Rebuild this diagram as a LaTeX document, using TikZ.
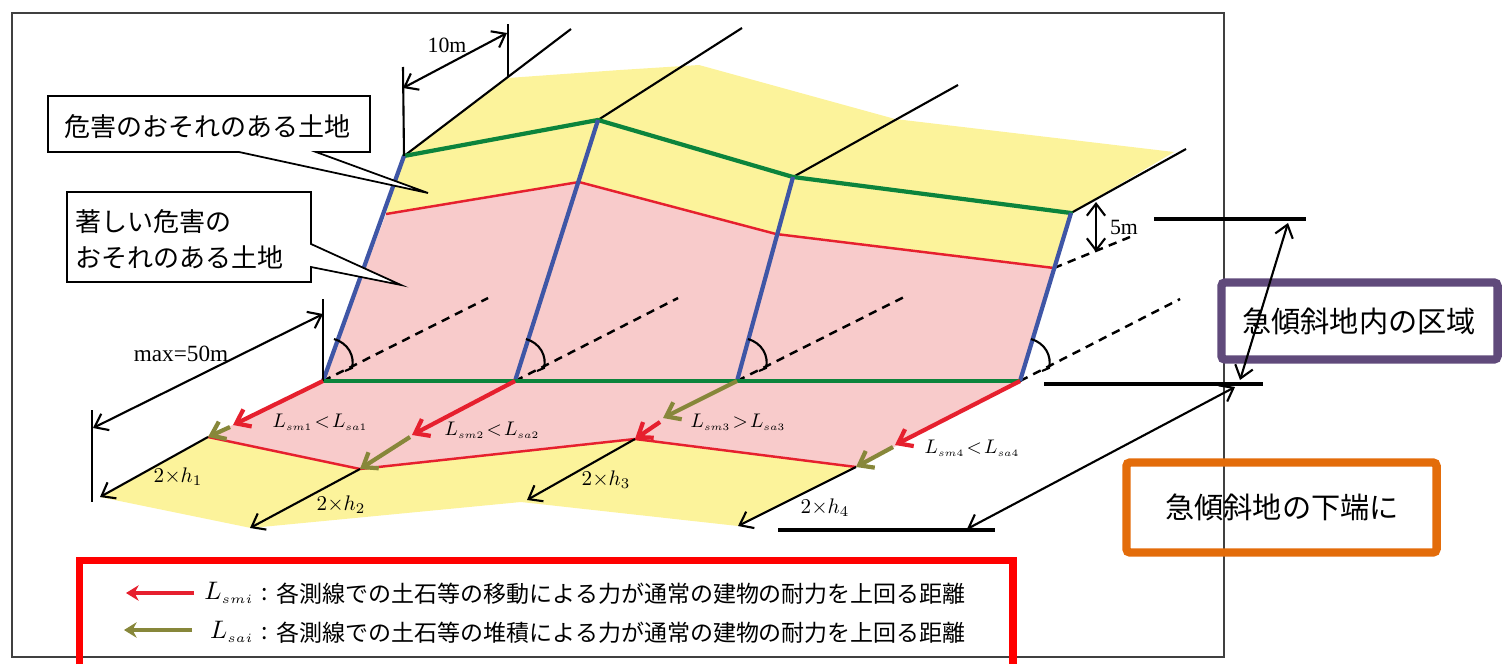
\documentclass[tikz,border=0pt]{standalone}
\usepackage{fontspec}
\setmainfont{Liberation Serif}
\newfontfamily\jpfont{Noto Sans CJK JP}
\usetikzlibrary{calc,arrows.meta}
\definecolor{landyellow}{HTML}{FCF39B}
\definecolor{landpink}{HTML}{F8CBCB}
\definecolor{linegreen}{HTML}{0C843C}
\definecolor{lineblue}{HTML}{3F56A6}
\definecolor{linered}{HTML}{E6202E}
\definecolor{lineolive}{HTML}{87873A}
\definecolor{boxpurple}{HTML}{604A7B}
\definecolor{boxorange}{HTML}{E36C0A}
\newcommand{\lensub}[1]{L_{\scriptscriptstyle #1}}
\tikzset{
  dimline/.style={black,line width=0.6pt},
  dimarrow/.style={dimline,{Straight Barb[length=3.4pt,width=5.2pt]}-{Straight Barb[length=3.4pt,width=5.2pt]}},
  onearrow/.style={-{Straight Barb[length=3.4pt,width=5.2pt]},line width=0.6pt},
  dashline/.style={black,line width=0.7pt,dash pattern=on 2.4pt off 1.8pt},
  refline/.style={black,line width=0.9pt},
  redarrow/.style={linered,line width=1.2pt,-{Straight Barb[length=3.6pt,width=5.4pt]}},
  olivearrow/.style={lineolive,line width=1.2pt,-{Straight Barb[length=3.6pt,width=5.4pt]}},
  mathlabel/.style={scale=0.56,inner sep=0pt},
  heightlabel/.style={scale=0.6,inner sep=0pt},
  legendmath/.style={scale=0.72,inner sep=0pt},
  latinlabel/.style={inner sep=0pt,font=\fontsize{6.2}{7}\selectfont},
  calloutlabel/.style={inner sep=0pt,anchor=west,font=\jpfont\fontsize{7.4}{8}\selectfont},
  legendlabel/.style={inner sep=0pt,anchor=west,font=\jpfont\fontsize{6.54}{7}\selectfont},
  boxlabel/.style={inner sep=0pt,font=\jpfont\fontsize{8.3}{9}\selectfont}
}
\begin{document}
\begin{tikzpicture}[x=0.01cm,y=-0.01cm]
   \useasboundingbox (0,0) rectangle (1510,664);
   \draw[black!75,line width=0.35pt] (12,13) rectangle (1224,657);

   \coordinate (T1) at (404,156);
   \coordinate (T2) at (598,120);
   \coordinate (T3) at (793,177);
   \coordinate (T4) at (1071,213);
   \coordinate (B1) at (323,381);
   \coordinate (B2) at (515,381);
   \coordinate (B3) at (737,381);
   \coordinate (B4) at (1020,381);
   \coordinate (R1) at (386,214);
   \coordinate (R2) at (579,182);
   \coordinate (R3) at (776,234);
   \coordinate (R4) at (1054,268);
   \coordinate (S1) at (208,437);
   \coordinate (S2) at (360,469);
   \coordinate (S3) at (635,439);
   \coordinate (S4) at (856,467);

   \fill[landyellow] (T1) -- (508,78) -- (620,70) -- (699,65) -- (895,119)
        -- (1174,152) -- (T4) -- (R4) -- (R3) -- (R2) -- (R1) -- cycle;
   \fill[landpink] (R1) -- (R2) -- (R3) -- (R4) -- (B4) -- (S4) -- (S3)
        -- (S2) -- (S1) -- (B1) -- cycle;
   \fill[landyellow] (S1) -- (S2) -- (S3) -- (S4) -- (738,526) -- (521,502)
        -- (251,528) -- (100,497) -- cycle;

   \foreach \from/\to in {B1/{488,298},B2/{678,298},B3/{904,297},B4/{1180,299},R4/{1130,237}}
      {
        \draw[dashline] (\from) -- (\to);
      }
   \foreach \from/\to in {T1/{571,29},T2/{742,28},T3/{958,85},T4/{1186,149}}
      {
        \draw[dimline] (\from) -- (\to);
      }
   \foreach \a/\b in {T1/T2,T2/T3,T3/T4}
      {
        \draw[linegreen,line width=1.2pt,line cap=round] (\a) -- (\b);
      }
   \foreach \a/\b in {R1/R2,R2/R3,R3/R4,S1/S2,S2/S3,S3/S4}
      {
        \draw[linered,line width=0.7pt] (\a) -- (\b);
      }
   \foreach \x in {1,...,4}
      {
        \draw[lineblue,line width=1.2pt] (T\x) -- (B\x);
        \draw[black,line width=0.6pt] ($(B\x)+(11,-42)$)
             .. controls ($(B\x)+(25,-38)$) and ($(B\x)+(32,-25)$) .. ($(B\x)+(29,-13)$)
             -- ++(-7,3);
      }
   \draw[linegreen,line width=1.1pt] (B1) -- (B4);

   \draw[dimline] (T1) -- (403,67);
   \draw[dimline] (508,77) -- (508,24);
   \draw[dimarrow] (403,88) -- (507,33);
   \node[latinlabel] (tenm) at (447,45) {10m};
   \draw[dimline] (B1) -- (323,299);
   \draw[dimline] (92,410) -- (92,502);
   \draw[dimarrow] (323,314) -- (93,428);
   \node[latinlabel,font=\fontsize{6.6}{8}\selectfont] (maxlen) at (181,354) {max=50m};
   \draw[dimarrow] (1096,202) -- (1096,252);
   \node[latinlabel] (fivem) at (1124,227) {5m};

   \foreach \from/\to in {S1/{100,497},S2/{250,528},S3/{527,500},S4/{738,526}}
      {
        \draw[onearrow] (\from) -- (\to);
      }

   \draw[redarrow] (B1) -- (233,425);
   \draw[olivearrow] (230,427) -- (S1);
   \draw[redarrow] (B2) -- (412,435);
   \draw[olivearrow] (410,437) -- (S2);
   \draw[olivearrow] (B3) -- (663,418);
   \draw[redarrow] (660,422) -- (S3);
   \draw[redarrow] (B4) -- (895,445);
   \draw[olivearrow] (893,447) -- (S4);

   \node[mathlabel] (cmp1) at (320,422) {$\lensub{sm1}\!<\!\lensub{sa1}$};
   \node[mathlabel] (cmp2) at (492,430) {$\lensub{sm2}\!<\!\lensub{sa2}$};
   \node[mathlabel] (cmp3) at (738,422) {$\lensub{sm3}\!>\!\lensub{sa3}$};
   \node[mathlabel] (cmp4) at (972,448) {$\lensub{sm4}\!<\!\lensub{sa4}$};
   \node[heightlabel] (hgt1) at (178,477) {$2{\times}h_1$};
   \node[heightlabel] (hgt2) at (341,505) {$2{\times}h_2$};
   \node[heightlabel] (hgt3) at (606,480) {$2{\times}h_3$};
   \node[heightlabel] (hgt4) at (825,508) {$2{\times}h_4$};

   \filldraw[fill=white,draw=black,line width=0.5pt]
        (48,96) -- (370,96) -- (370,152) -- (316,152) -- (428,193) -- (239,152) -- (48,152) -- cycle;
   \node[calloutlabel] (kigai) at (64,127) {危害のおそれのある土地};
   \filldraw[fill=white,draw=black,line width=0.5pt]
        (67,192) -- (311,192) -- (311,244) -- (401,285) -- (311,267) -- (311,282) -- (67,282) -- cycle;
   \node[calloutlabel] (ichijirushii) at (75,222) {著しい危害の};
   \node[calloutlabel] (osore) at (75,257) {おそれのある土地};

   \draw[refline] (1154,219) -- (1306,219);
   \draw[refline] (1044,384) -- (1263,384);
   \draw[refline] (778,530) -- (995,530);
   \draw[boxpurple,line width=2.4pt,rounded corners=1pt] (1221.5,282.5) rectangle (1497.5,359.5);
   \draw[boxorange,line width=2.4pt,rounded corners=1pt] (1126.5,462.5) rectangle (1436.5,552.5);
   \draw[dimarrow] (1288,223) -- (1240,380);
   \draw[dimarrow] (967,529) -- (1235,387);
   \node[boxlabel] (kuiki) at (1359,321) {急傾斜地内の区域};
   \node[boxlabel] (katan) at (1282,507) {急傾斜地の下端に};

   \draw[red,line width=2.1pt] (79.5,664) -- (79.5,560.5) -- (1013,560.5) -- (1013,664);
   \draw[linered,line width=1.1pt,-{Stealth[length=3.6pt,width=4.4pt]}] (194,593) -- (126,593);
   \draw[lineolive,line width=1.1pt,-{Stealth[length=3.6pt,width=4.4pt]}] (192,630) -- (124,630);
   \node[legendmath] (lsmi) at (229,593) {$\lensub{smi}$};
   \node[legendmath] (lsai) at (232,632) {$\lensub{sai}$};
   \node[legendlabel] (colon1) at (261,595) {:};
   \node[legendlabel] (colon2) at (261,634) {:};
   \node[legendlabel] (idou) at (276,594) {各測線での土石等の移動による力が通常の建物の耐力を上回る距離};
   \node[legendlabel] (taiseki) at (276,633) {各測線での土石等の堆積による力が通常の建物の耐力を上回る距離};
\end{tikzpicture}
\end{document}
